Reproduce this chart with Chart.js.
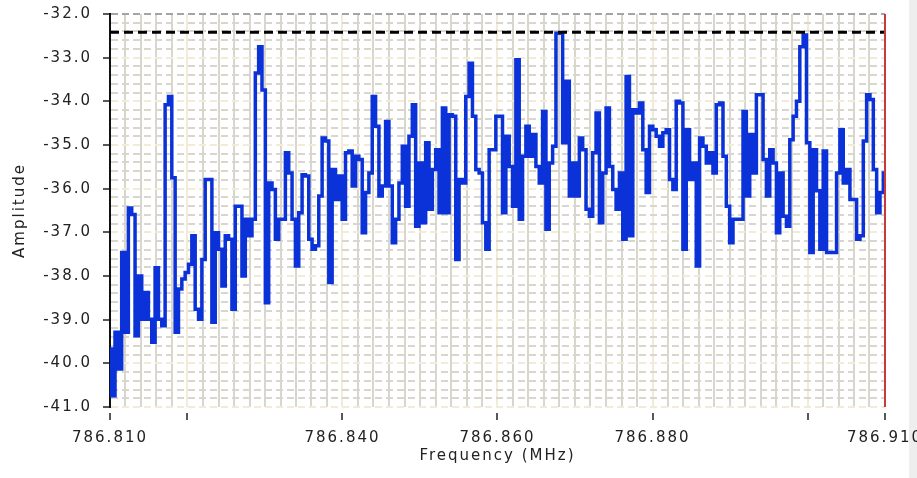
<!DOCTYPE html>
<html>
<head>
<meta charset="utf-8">
<title>Spectrum</title>
<script src="https://cdn.jsdelivr.net/npm/chart.js@4.4.1/dist/chart.umd.min.js"></script>
<style>
  html, body { margin: 0; padding: 0; background: #fff; }
  #wrap { position: relative; width: 917px; height: 478px; overflow: hidden; }
  #edge { position: absolute; right: 0; top: 0; width: 8px; height: 478px; background: #eeeeee; }
  #spectrum { position: absolute; left: 0; top: 0; }
</style>
</head>
<body>
<div id="wrap">
  <div id="edge"></div>
  <canvas id="spectrum" width="917" height="478"></canvas>
</div>
<script>
//*** DATA ***//
const freqStart = 786.81;
const freqStop = 786.91;
const ampMin = -41;
const ampMax = -32;
const peakLevel = -32.42;

// tick marks and labelled frequencies on the bottom axis
const xTickFreqs = [786.81, 786.82, 786.84, 786.86, 786.88, 786.90, 786.91];
const xLabelFreqs = [786.81, 786.84, 786.86, 786.88, 786.91];

// amplitude per frequency bin (dBm), evenly spaced from freqStart to freqStop
const amplitude = [
  -39.67, -40.74, -39.29, -40.13, -37.46, -39.29, -36.44, -36.59, -39.37, -38.00,
  -38.99, -38.38, -38.99, -39.52, -37.81, -38.99, -39.14, -34.08, -33.89, -35.75,
  -39.29, -38.30, -38.07, -37.92, -37.73, -37.08, -38.76, -38.99, -37.62, -35.79,
  -35.79, -39.06, -37.01, -37.39, -38.23, -37.08, -37.16, -38.76, -36.40,
  -36.40, -38.00, -36.70, -37.08, -36.70, -33.35, -32.75, -33.74, -38.61, -35.87,
  -36.02, -37.16, -36.70, -36.70, -35.18, -35.64, -36.70, -37.77, -36.55, -35.68,
  -35.71, -37.16, -37.39, -37.31, -36.17, -34.84, -34.91, -38.15, -35.56, -36.25,
  -35.71, -36.70, -35.18, -35.14, -35.94, -35.26, -35.33, -37.01, -36.09,
  -35.64, -33.89, -34.57, -36.17, -35.94, -34.46, -35.94, -37.24, -36.70, -35.87,
  -35.03, -36.40, -34.80, -34.08, -36.86, -35.41, -36.78, -34.95, -36.47, -35.56,
  -35.11, -36.55, -34.15, -36.55, -34.31, -34.34, -37.62, -35.79, -35.87, -33.89,
  -33.13, -34.34, -35.56, -35.64, -36.78, -37.39, -35.11, -35.11, -34.34,
  -34.34, -36.55, -34.80, -35.49, -36.40, -33.05, -36.70, -35.26, -34.57, -35.26,
  -34.76, -35.49, -35.87, -34.23, -36.93, -35.41, -35.03, -32.44, -32.44, -34.95,
  -33.54, -36.17, -35.41, -36.17, -34.84, -35.11, -36.47, -36.63, -35.18, -34.27,
  -36.78, -35.64, -34.15, -35.49, -36.02, -36.47, -35.64, -37.16, -33.43,
  -37.08, -34.19, -34.27, -34.04, -35.11, -36.09, -34.57, -34.65, -34.80, -35.03,
  -34.72, -34.65, -35.79, -36.02, -34.00, -34.04, -37.39, -34.65, -35.79, -35.41,
  -37.77, -34.84, -35.03, -35.41, -35.18, -35.64, -34.08, -34.04, -35.26, -36.40,
  -37.24, -36.70, -36.70, -36.70, -34.23, -36.17, -34.76, -35.64, -33.85,
  -33.85, -35.33, -36.17, -35.11, -35.41, -37.01, -35.64, -36.63, -36.86, -34.88,
  -34.34, -34.00, -32.75, -32.48, -34.95, -37.46, -35.11, -36.05, -37.39, -35.14,
  -37.46, -37.46, -37.46, -35.64, -34.65, -35.87, -35.56, -36.25, -36.25, -37.16,
  -37.08, -34.91, -33.85, -33.96, -35.56, -36.55, -36.09, -35.64
];


//*** HELPERS ***//
const near = (a, b) => Math.abs(a - b) < 1e-7;
const isWhole = v => near(v, Math.round(v));
const binWidth = (freqStop - freqStart) / (amplitude.length - 1);
const trace = amplitude.map((y, i) => ({ x: freqStart + i * binWidth, y }));

const MAJOR = '#f1ebd8';
const MINOR = '#d9d6ce';
const TEXT = '#222';

// LabVIEW-style wide text
const spacing = {
  id: 'spacing',
  beforeLayout: chart => { chart.ctx.letterSpacing = '2px'; },
  beforeDraw: chart => { chart.ctx.letterSpacing = '2px'; }
};

Chart.defaults.font.family = 'DejaVu Sans';
Chart.defaults.font.size = 15;
Chart.defaults.color = TEXT;


//*** CHART ***//
new Chart(document.getElementById('spectrum'), {
  type: 'line',
  data: {
    datasets: [
      {
        label: 'Spectrum',
        data: trace,
        borderColor: '#0a32d8',
        borderWidth: 3.5,
        borderJoinStyle: 'miter',
        pointRadius: 0,
        stepped: 'middle',
        order: 2
      },
      {
        label: 'Peak',
        data: [{ x: freqStart, y: peakLevel }, { x: freqStop, y: peakLevel }],
        borderColor: '#000',
        borderWidth: 3,
        borderDash: [9, 5],
        pointRadius: 0,
        order: 1
      },
      {
        label: 'Cursor',
        data: [{ x: freqStop, y: ampMin }, { x: freqStop, y: ampMax }],
        borderColor: '#c8393d',
        borderWidth: 2,
        pointRadius: 0,
        clip: 4,
        order: 0
      }
    ]
  },
  options: {
    responsive: false,
    devicePixelRatio: 1,
    animation: false,
    layout: { padding: { top: 14, right: 32, left: 0, bottom: 0 } },
    plugins: {
      legend: { display: false },
      tooltip: { enabled: false }
    },
    scales: {
      x: {
        type: 'linear',
        min: freqStart,
        max: freqStop,
        afterBuildTicks: s => {
          s.ticks = [];
          for (let i = 0; i <= 50; i++) s.ticks.push({ value: freqStart + i * 0.002 });
        },
        afterFit: s => {
          s.height = 71;
          s.paddingLeft = 0;
          s.paddingRight = 0;
        },
        border: { display: false },
        grid: {
          lineWidth: 2,
          color: c => xTickFreqs.some(f => near(f, c.tick.value)) ? MAJOR : MINOR,
          tickColor: c => xTickFreqs.some(f => near(f, c.tick.value)) ? TEXT : 'transparent',
          tickLength: 13,
          tickWidth: 1.5,
          tickBorderDash: [0, 6, 7, 40]
        },
        ticks: {
          autoSkip: false,
          maxRotation: 0,
          minRotation: 0,
          padding: 9,
          callback: v => xLabelFreqs.some(f => near(f, v)) ? v.toFixed(3) : ''
        },
        title: {
          display: true,
          text: 'Frequency (MHz)',
          padding: { top: 0, bottom: 13 }
        }
      },
      y: {
        type: 'linear',
        min: ampMin,
        max: ampMax,
        afterBuildTicks: s => {
          s.ticks = [];
          for (let i = 0; i <= 45; i++) s.ticks.push({ value: ampMin + i * 0.2 });
        },
        afterFit: s => {
          s.width = 110;
          s.paddingTop = 0;
          s.paddingBottom = 0;
        },
        border: { display: true, color: '#111', width: 2, dash: [7, 4] },
        grid: {
          lineWidth: 2,
          color: c => near(c.tick.value, ampMax) ? '#a4a4a4' : (isWhole(c.tick.value) ? MAJOR : MINOR),
          tickColor: c => isWhole(c.tick.value) ? TEXT : 'transparent',
          tickLength: 14,
          tickWidth: 1.5,
          tickBorderDash: [0, 7, 7, 40]
        },
        ticks: {
          autoSkip: false,
          padding: 4,
          callback: v => isWhole(v) ? v.toFixed(1) : ''
        },
        title: {
          display: true,
          text: 'Amplitude',
          padding: { top: 11, bottom: 0 }
        }
      }
    }
  },
  plugins: [spacing]
});
</script>
</body>
</html>
